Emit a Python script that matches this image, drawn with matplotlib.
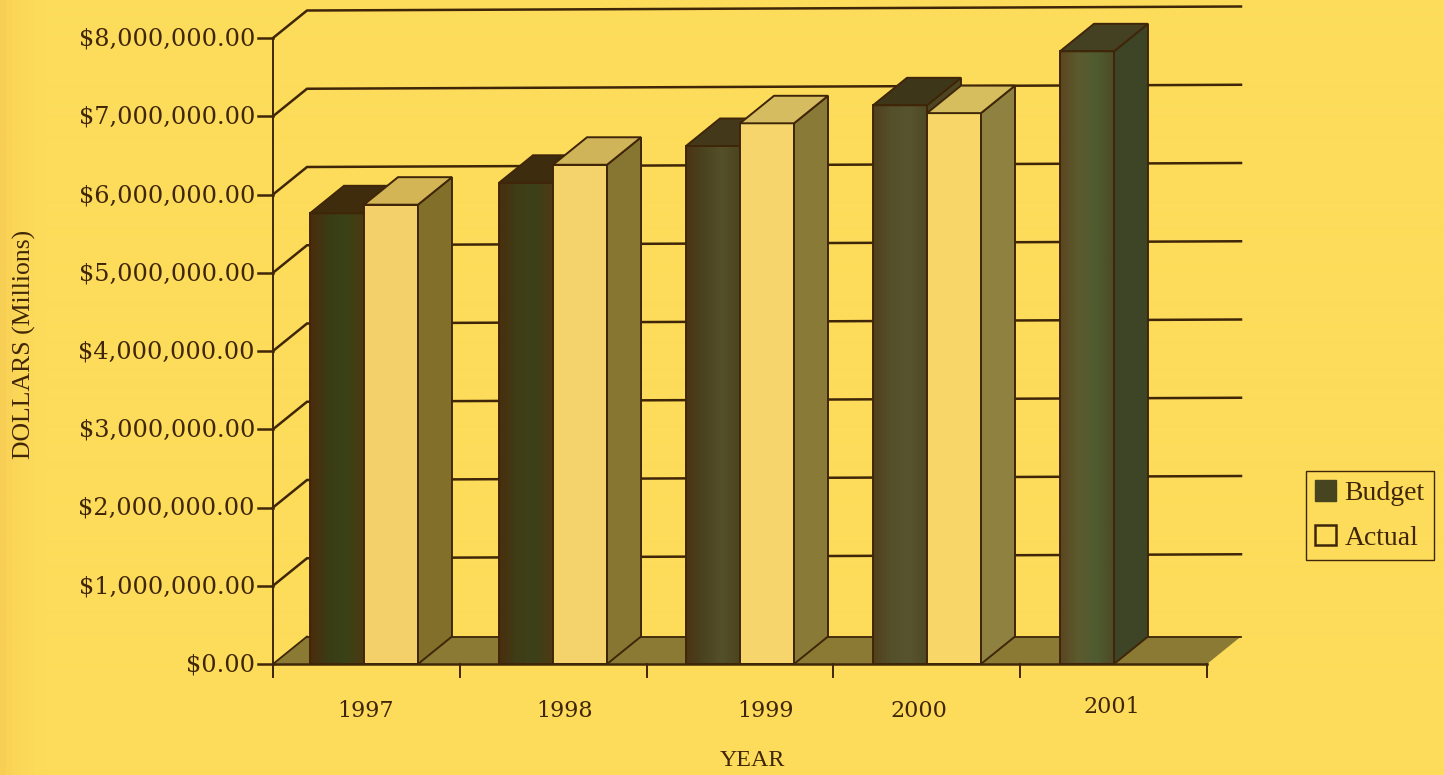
import numpy as np
import matplotlib
matplotlib.use("Agg")
import matplotlib.pyplot as plt
from matplotlib.patches import Polygon, Patch
from matplotlib.colors import LinearSegmentedColormap

# ---- data (millions on the chart's axis scale) ----
years = ["1997", "1998", "1999", "2000", "2001"]
budget = [5.76, 6.15, 6.62, 7.14, 7.83]
actual = [5.87, 6.38, 6.91, 7.04, np.nan]
y_ticks = [0, 1, 2, 3, 4, 5, 6, 7, 8]
y_labels = ["$0.00", "$1,000,000.00", "$2,000,000.00", "$3,000,000.00", "$4,000,000.00",
            "$5,000,000.00", "$6,000,000.00", "$7,000,000.00", "$8,000,000.00"]

# ---- scale calibration ----
W, H = 1444, 775
X0, PX_CAT = 273, 186.8
Y0, PX_VAL = 664, 78.25
DX, DY = 34 / PX_CAT, 27.5 / PX_VAL      # depth of the pseudo-3D view, data units
BAR_W = 54 / PX_CAT
BAR_OFF = [0.198, 0.21, 0.211, 0.212, 0.213]
LABEL_POS = [0.495, 1.56, 2.635, 3.46, 4.49]
LABEL_DROP = [47, 47, 47, 47, 43]
TILT = 4 / PX_VAL

INK = "#402608"
bg_cmap = LinearSegmentedColormap.from_list(
    "bg", [(0, "#f8cf55"), (0.008, "#fbd658"), (0.03, "#fddc5b"), (1, "#fddc5b")])
dark_cmaps = [
    ["#4c2c0c", "#3a3c14", "#3a4216", "#4c3a12"],
    ["#4a2e0e", "#3e3e16", "#3c4018", "#4e3a14"],
    ["#4c3414", "#4a4420", "#545028", "#4c4420"],
    ["#52401c", "#54502a", "#585430", "#4e4a24"],
    ["#5a4620", "#5c5a2e", "#4e5c30", "#4e4a26"],
]
dark_side = ["#56461a", "#50461c", "#4e4a24", "#4c4622", "#3e4426"]
dark_top = ["#3e2c0c", "#3e2c0e", "#44381a", "#3e3618", "#444022"]
light_front = ["#f3d069", "#f4d36c", "#f6d56c", "#f8d668"]
light_side = ["#82702a", "#877632", "#8a7a38", "#8f8240"]
light_top = ["#d3b556", "#d0b45a", "#d6bc60", "#d6bd5e"]

fig = plt.figure(figsize=(W / 100, H / 100), dpi=100, facecolor="#fddc5b")
ax = fig.add_axes([0, 0, 1, 1])
ax.set_xlim(-X0 / PX_CAT, (W - X0) / PX_CAT)
ax.set_ylim(-(H - Y0) / PX_VAL, Y0 / PX_VAL)
ax.axis("off")
xlim, ylim = ax.get_xlim(), ax.get_ylim()

ax.imshow(np.linspace(0, 1, 1444)[None, :], cmap=bg_cmap, aspect="auto",
          extent=[*xlim, *ylim], zorder=0)
ax.set_xlim(xlim); ax.set_ylim(ylim)

n = len(years)
# floor
ax.add_patch(Polygon([(0, 0), (n, 0), (n + DX, DY), (DX, DY)], fc="#8a7a34", ec="none", zorder=1))
ax.plot([DX, n + DX], [DY, DY], color=INK, lw=1.3, zorder=1.1)
# back wall gridlines + left wall diagonals
for v in y_ticks[1:]:
    ax.plot([0, DX, n + DX], [v, v + DY, v + DY + TILT], color=INK, lw=1.8, zorder=1.2,
            solid_joinstyle="miter")
ax.plot([0, DX], [0, DY], color=INK, lw=1.3, zorder=1.2)


def gradient_rect(x0, x1, y1, colors, z):
    cm = LinearSegmentedColormap.from_list("f", colors)
    ax.imshow(np.linspace(0, 1, 64)[None, :], cmap=cm, aspect="auto",
              extent=[x0, x1, 0, y1], zorder=z)
    ax.set_xlim(xlim); ax.set_ylim(ylim)


def bar3d(x0, v, front, side, top, z, edge=INK, lw=1.4):
    x1 = x0 + BAR_W
    if isinstance(front, list):
        gradient_rect(x0, x1, v, front, z)
        ax.add_patch(Polygon([(x0, 0), (x1, 0), (x1, v), (x0, v)], fc="none", ec=edge, lw=lw, zorder=z + 0.1))
    else:
        ax.add_patch(Polygon([(x0, 0), (x1, 0), (x1, v), (x0, v)], fc=front, ec=edge, lw=lw, zorder=z))
    ax.add_patch(Polygon([(x1, 0), (x1 + DX, DY), (x1 + DX, v + DY), (x1, v)], fc=side, ec=edge, lw=lw, zorder=z))
    ax.add_patch(Polygon([(x0, v), (x1, v), (x1 + DX, v + DY), (x0 + DX, v + DY)], fc=top, ec=edge, lw=lw, zorder=z))


for i in range(n):
    x = i + BAR_OFF[i]
    bar3d(x, budget[i], dark_cmaps[i], dark_side[i], dark_top[i], 2 + i * 0.5)
    if not np.isnan(actual[i]):
        bar3d(x + BAR_W, actual[i], light_front[i], light_side[i], light_top[i], 2.2 + i * 0.5)

# axes
ax.plot([0, 0], [-13 / PX_VAL, 8], color=INK, lw=1.4, zorder=6)
ax.plot([0, n], [0, 0], color=INK, lw=1.8, zorder=6)
for i in range(n + 1):
    ax.plot([i, i], [-13 / PX_VAL, 0], color=INK, lw=1.4, zorder=6)
SERIF = "DejaVu Serif"
for v, lab in zip(y_ticks, y_labels):
    ax.plot([-15 / PX_CAT, 0], [v, v], color=INK, lw=1.8, zorder=6)
    ax.text(-18 / PX_CAT, v - 1 / PX_VAL, lab, ha="right", va="center", family=SERIF, fontsize=17.3, color=INK, zorder=7)
for p, d, lab in zip(LABEL_POS, LABEL_DROP, years):
    ax.text(p, -d / PX_VAL, lab, ha="center", va="center", family=SERIF, fontsize=16, color=INK, zorder=7)

ax.text(-249 / PX_CAT, 320 / PX_VAL, "DOLLARS (Millions)", rotation=90, ha="center", va="center",
        family="Liberation Serif", fontsize=18.5, color=INK)
ax.text((752 - X0) / PX_CAT, -97 / PX_VAL, "YEAR", ha="center", va="center",
        family="Liberation Serif", fontsize=17.3, color=INK)

handles = [Patch(fc="#47451f", ec="#47451f", label="Budget"),
           Patch(fc="none", ec=INK, lw=1.8, label="Actual")]
leg = ax.legend(handles=handles, loc="center", bbox_to_anchor=(1370 / W, 1 - 515.5 / H),
                prop={"family": "Liberation Serif", "size": 20}, labelcolor=INK,
                frameon=True, fancybox=False, edgecolor=INK,
                handlelength=0.75, handleheight=0.75, handletextpad=0.3,
                borderpad=0.33, labelspacing=0.67)
leg.get_frame().set_facecolor("none")
leg.get_frame().set_alpha(None)
leg.get_frame().set_linewidth(1.0)
leg.set_zorder(8)

fig.savefig("out.png", dpi=100, facecolor=fig.get_facecolor())
